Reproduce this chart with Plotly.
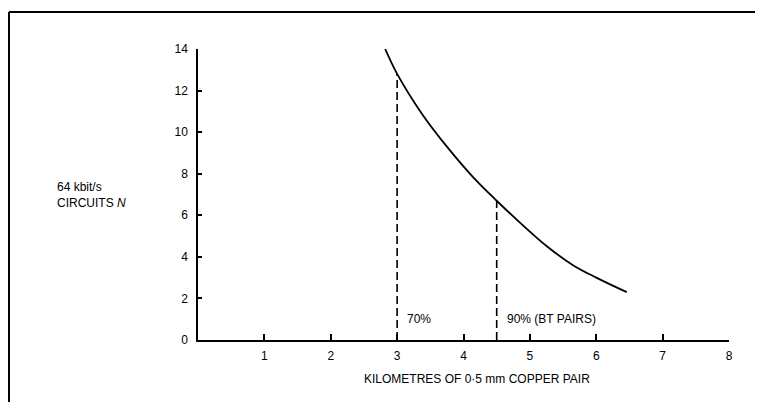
import plotly.graph_objects as go

# Data
km = [2.82, 3.0, 3.37, 3.75, 4.14, 4.5, 4.85, 5.26, 5.65, 6.0, 6.46]
circuits = [14.0, 12.8, 10.9, 9.3, 7.85, 6.7, 5.65, 4.5, 3.6, 3.0, 2.3]
marker_km = [3.0, 4.5]
marker_circuits = [12.8, 6.7]
marker_labels = ["70%", "90% (BT PAIRS)"]
x_ticks = [1, 2, 3, 4, 5, 6, 7, 8]
y_ticks = [0, 2, 4, 6, 8, 10, 12, 14]

FONT = "Liberation Sans Narrow, Arial Narrow, Liberation Sans, Arial, sans-serif"

fig = go.Figure()
fig.add_trace(go.Scatter(x=km, y=circuits, mode="lines",
                         line=dict(color="black", width=1.8, shape="spline", smoothing=1.0),
                         hoverinfo="skip", showlegend=False))
for mx, my in zip(marker_km, marker_circuits):
    fig.add_trace(go.Scatter(x=[mx, mx], y=[0, my], mode="lines",
                             line=dict(color="black", width=1.6, dash="8px,4px"),
                             hoverinfo="skip", showlegend=False))
for mx, lab in zip(marker_km, marker_labels):
    fig.add_annotation(x=mx, y=1.0, xref="x", yref="y", text=lab, showarrow=False,
                       xanchor="left", xshift=8, font=dict(size=12, color="black", family=FONT))

fig.add_annotation(x=-0.269, y=0.5, xref="paper", yref="paper",
                   text="64 kbit/s<br>CIRCUITS <i>N</i>", showarrow=False, align="left",
                   xanchor="left", yanchor="middle", font=dict(size=12, color="black", family=FONT))
fig.add_annotation(x=0.525, y=-0.135, xref="paper", yref="paper",
                   text="KILOMETRES OF 0·5 mm COPPER PAIR", showarrow=False,
                   xanchor="center", yanchor="middle", font=dict(size=12, color="black", family=FONT))

# Frame: left and top edges only are visible in the reference
fig.add_shape(type="line", xref="paper", yref="paper", x0=-0.356, x1=-0.356, y0=-0.5, y1=1.127,
              line=dict(color="black", width=2), layer="below")
fig.add_shape(type="line", xref="paper", yref="paper", x0=-0.356, x1=1.3, y0=1.127, y1=1.127,
              line=dict(color="black", width=2), layer="below")

fig.update_xaxes(range=[0, 8], tickvals=x_ticks, ticktext=[str(v) for v in x_ticks],
                 showline=True, linecolor="black", linewidth=1.5, ticks="inside", ticklen=6,
                 tickcolor="black", tickwidth=1.5, showgrid=False, zeroline=False,
                 tickfont=dict(size=12, color="black", family=FONT), ticklabelstandoff=4)
fig.update_yaxes(range=[0, 14], tickvals=y_ticks, ticktext=[str(v) for v in y_ticks],
                 showline=True, linecolor="black", linewidth=1.5, ticks="inside", ticklen=4,
                 tickcolor="black", tickwidth=1.5, showgrid=False, zeroline=False,
                 tickfont=dict(size=12, color="black", family=FONT), ticklabelstandoff=6)

fig.update_layout(width=755, height=394, margin=dict(l=190, r=34, t=41, b=62),
                  paper_bgcolor="white", plot_bgcolor="white", showlegend=False)

fig.write_html("out.html")
